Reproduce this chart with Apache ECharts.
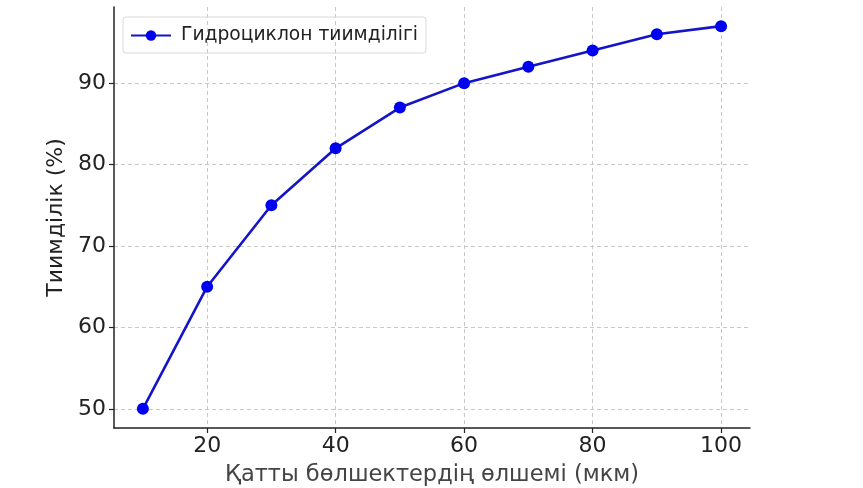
<!DOCTYPE html>
<html>
<head>
<meta charset="utf-8">
<script src="https://cdn.jsdelivr.net/npm/echarts@6/dist/echarts.min.js"></script>
<style>html,body{margin:0;padding:0;background:#fff;}#c{width:863px;height:488px;}</style>
</head>
<body>
<div id="c"></div>
<script>
const sizes = [10, 20, 30, 40, 50, 60, 70, 80, 90, 100];
const efficiency = [50, 65, 75, 82, 87, 90, 92, 94, 96, 97];
const xTicks = [20, 40, 60, 80, 100];
const yTicks = [50, 60, 70, 80, 90];
const seriesName = 'Гидроциклон тиимділігі';
const xTitle = 'Қатты бөлшектердің өлшемі (мкм)';
const yTitle = 'Тиимділік (%)';

const font = 'DejaVu Sans';
const chart = echarts.init(document.getElementById('c'), null, {renderer: 'canvas'});
const gridLine = {show: true, lineStyle: {color: '#c8c8c8', type: [4, 3], width: 1}};
chart.setOption({
  animation: false,
  backgroundColor: '#ffffff',
  textStyle: {fontFamily: font},
  grid: {left: 114, right: 113, top: 7, bottom: 60, containLabel: false, outerBoundsMode: 'none'},
  legend: {
    left: 123, top: 17,
    padding: [9, 8, 8, 7],
    itemWidth: 40, itemHeight: 13, itemGap: 10,
    borderColor: '#d8d8d8', borderWidth: 1, borderRadius: 3,
    textStyle: {fontFamily: font, fontSize: 18.7, color: '#222', padding: [0, 0, 0, 5]},
    data: [{name: seriesName}]
  },
  xAxis: {
    type: 'value', min: 5.5, max: 104.5,
    name: xTitle, nameLocation: 'middle', nameGap: 36,
    nameTextStyle: {fontFamily: font, fontSize: 22.5, color: '#444'},
    axisLine: {show: true, onZero: false, lineStyle: {color: '#222', width: 1.5}},
    axisTick: {show: true, customValues: xTicks, length: 5, lineStyle: {color: '#222', width: 1.2}},
    axisLabel: {customValues: xTicks, fontFamily: font, fontSize: 22, color: '#222', margin: 7},
    splitLine: gridLine
  },
  yAxis: {
    type: 'value', min: 47.65, max: 99.35,
    name: yTitle, nameLocation: 'middle', nameGap: 45,
    nameTextStyle: {fontFamily: font, fontSize: 22, color: '#222'},
    axisLine: {show: true, onZero: false, lineStyle: {color: '#222', width: 1.5}},
    axisTick: {show: true, customValues: yTicks, length: 5, lineStyle: {color: '#222', width: 1.2}},
    axisLabel: {customValues: yTicks, fontFamily: font, fontSize: 22, color: '#222', margin: 8},
    splitLine: gridLine
  },
  series: [{
    name: seriesName,
    type: 'line',
    data: sizes.map((s, i) => [s, efficiency[i]]),
    symbol: 'circle', symbolSize: 12,
    lineStyle: {color: '#1414c8', width: 2.6},
    itemStyle: {color: '#0000f0'},
    z: 5
  }]
});
</script>
</body>
</html>
